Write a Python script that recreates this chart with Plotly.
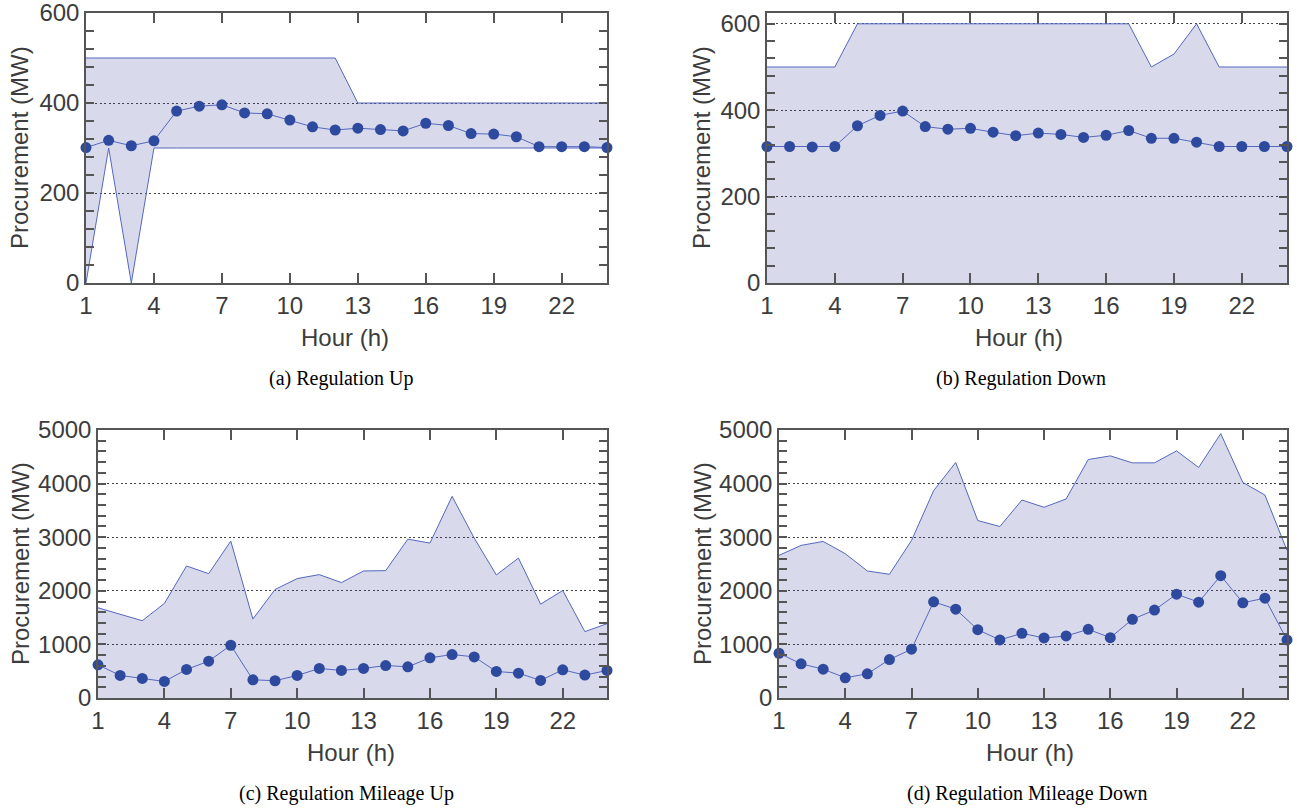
import plotly.graph_objects as go

# ---------------- data ----------------
hours = list(range(1, 25))
x_tick_vals = [1, 4, 7, 10, 13, 16, 19, 22]

reg_up_lower = [0, 300, 0, 300, 300, 300, 300, 300, 300, 300, 300, 300,
                300, 300, 300, 300, 300, 300, 300, 300, 300, 300, 300, 300]
reg_up_upper = [500, 500, 500, 500, 500, 500, 500, 500, 500, 500, 500, 500,
                400, 400, 400, 400, 400, 400, 400, 400, 400, 400, 400, 400]
reg_up_proc = [301, 317, 305, 316, 382, 393, 396, 378, 376, 362, 347, 340,
               344, 341, 338, 355, 350, 332, 331, 325, 303, 303, 303, 301]

reg_down_upper = [500, 500, 500, 500, 600, 600, 600, 600, 600, 600, 600, 600,
                  600, 600, 600, 600, 600, 500, 530, 600, 500, 500, 500, 500]
reg_down_proc = [316, 316, 315, 316, 364, 388, 398, 362, 356, 358, 349, 341,
                 347, 344, 337, 342, 353, 335, 335, 326, 316, 316, 316, 316]

mil_up_upper = [1683, 1566, 1442, 1764, 2463, 2320, 2927, 1473, 2024, 2228, 2302, 2153,
                2370, 2376, 2964, 2890, 3762, 2983, 2296, 2611, 1751, 2005, 1238, 1386]
mil_up_proc = [619, 421, 365, 309, 532, 687, 984, 340, 322, 421, 551, 514,
               551, 606, 582, 749, 811, 767, 495, 464, 328, 526, 427, 514]

mil_down_upper = [2661, 2847, 2921, 2692, 2370, 2308, 2939, 3868, 4394, 3311, 3199, 3694,
                  3558, 3713, 4449, 4517, 4387, 4387, 4610, 4301, 4932, 4022, 3787, 2754]
mil_down_proc = [835, 637, 538, 377, 452, 718, 910, 1795, 1658, 1275, 1083, 1207,
                 1120, 1157, 1281, 1126, 1467, 1640, 1937, 1788, 2283, 1776, 1863, 1083]

captions = ["(a) Regulation Up", "(b) Regulation Down",
            "(c) Regulation Mileage Up", "(d) Regulation Mileage Down"]
y_title = "Procurement (MW)"
x_title = "Hour (h)"

# ---------------- style ----------------
W, H = 1297, 808
FILL = "rgba(63,63,160,0.2)"
EDGE = "rgb(84,104,190)"
MARK = "rgb(46,74,158)"
AX = "#555555"
TXT = "#3c3c3c"
SANS = "Liberation Sans, Arial, sans-serif"
SERIF = "Liberation Serif, Times New Roman, serif"


def fx(px):
    return px / W


def fy(py):
    return 1 - py / H


# pixel boxes: left, right, top, bottom
boxes = [(86, 607, 13, 283), (767, 1287, 13, 283),
         (98, 607, 430, 698), (779, 1287, 430, 698)]
ytitle_x = [20, 702, 20, 702]
xtitle_x = [345, 1019, 351, 1030]

panels = [
    dict(lower=reg_up_lower, upper=reg_up_upper, proc=reg_up_proc,
         yrange=[0, 600], dtick=200, minor=40),
    dict(lower=None, upper=reg_down_upper, proc=reg_down_proc,
         yrange=[0, 625], dtick=200, minor=40),
    dict(lower=None, upper=mil_up_upper, proc=mil_up_proc,
         yrange=[0, 5000], dtick=1000, minor=200),
    dict(lower=None, upper=mil_down_upper, proc=mil_down_proc,
         yrange=[0, 5000], dtick=1000, minor=200),
]

fig = go.Figure()
layout = dict(width=W, height=H, margin=dict(l=0, r=0, t=0, b=0, autoexpand=False),
              paper_bgcolor="white", plot_bgcolor="white", showlegend=False)
annotations = []

for i, (p, box) in enumerate(zip(panels, boxes)):
    sfx = "" if i == 0 else str(i + 1)
    xa, ya = "x" + sfx, "y" + sfx
    l, r, t, b = box
    if p["lower"] is not None:
        fig.add_trace(go.Scatter(x=hours, y=p["lower"], mode="lines",
                                 line=dict(color=EDGE, width=1),
                                 xaxis=xa, yaxis=ya, hoverinfo="skip"))
        fig.add_trace(go.Scatter(x=hours, y=p["upper"], mode="lines", fill="tonexty",
                                 fillcolor=FILL, line=dict(color=EDGE, width=1),
                                 xaxis=xa, yaxis=ya))
    else:
        fig.add_trace(go.Scatter(x=hours, y=p["upper"], mode="lines", fill="tozeroy",
                                 fillcolor=FILL, line=dict(color=EDGE, width=1),
                                 xaxis=xa, yaxis=ya))
    fig.add_trace(go.Scatter(x=hours, y=p["proc"], mode="lines+markers",
                             line=dict(color=EDGE, width=1),
                             marker=dict(color=MARK, size=11),
                             cliponaxis=False, xaxis=xa, yaxis=ya))

    layout["xaxis" + sfx] = dict(
        domain=[fx(l), fx(r)], anchor=ya, range=[1, 24], automargin=False,
        ticklabeloverflow="allow",
        tickmode="array", tickvals=x_tick_vals,
        ticks="inside", ticklen=10, tickcolor=AX, tickwidth=1.5,
        showline=True, linecolor=AX, linewidth=1.5, mirror="ticks",
        showgrid=False, zeroline=False,
        tickfont=dict(family=SANS, size=24, color=TXT))
    layout["yaxis" + sfx] = dict(
        domain=[fy(b), fy(t)], anchor=xa, range=p["yrange"], automargin=False,
        ticklabeloverflow="allow",
        dtick=p["dtick"], tick0=0,
        ticks="inside", ticklen=8, tickcolor=AX, tickwidth=1.5,
        minor=dict(dtick=p["minor"], ticks="inside", ticklen=8,
                   tickcolor=AX, tickwidth=1.5, showgrid=False),
        showline=True, linecolor=AX, linewidth=1.5, mirror="ticks",
        showgrid=True, gridcolor="#444444", gridwidth=1, griddash="2px,2.5px",
        zeroline=False,
        tickfont=dict(family=SANS, size=24, color=TXT))

    cx = (l + r) / 2
    # y-axis title
    annotations.append(dict(x=fx(ytitle_x[i]), y=fy((t + b) / 2), xref="paper", yref="paper",
                            text=y_title, textangle=-90, showarrow=False,
                            font=dict(family=SANS, size=24, color=TXT),
                            xanchor="center", yanchor="middle"))
    # x-axis title
    annotations.append(dict(x=fx(xtitle_x[i]), y=fy(b + 54), xref="paper", yref="paper",
                            text=x_title, showarrow=False,
                            font=dict(family=SANS, size=24, color=TXT),
                            xanchor="center", yanchor="middle"))
    # caption
    annotations.append(dict(x=fx(cx - 6), y=fy(b + 95), xref="paper", yref="paper",
                            text=captions[i], showarrow=False,
                            font=dict(family=SERIF, size=20, color="black"),
                            xanchor="center", yanchor="middle"))

layout["annotations"] = annotations
fig.update_layout(**layout)
fig.write_html("out.html", config={"displayModeBar": False},
               post_script="document.body.style.margin='0';"
                           "document.body.style.overflow='hidden';")
